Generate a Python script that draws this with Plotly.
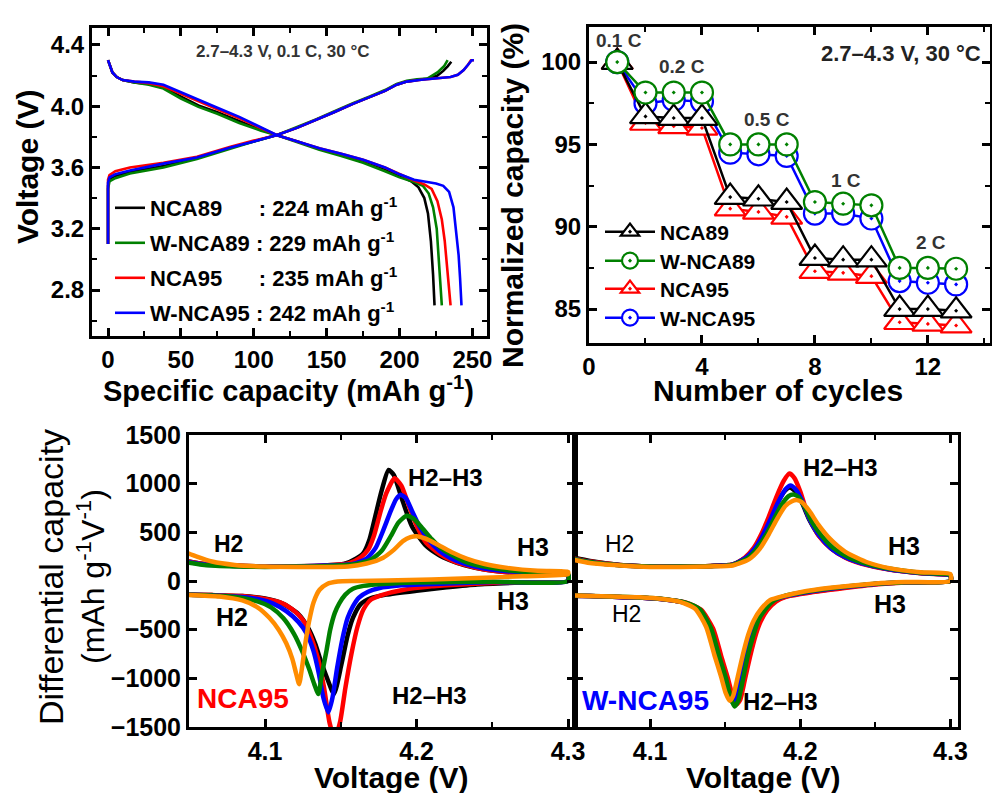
import plotly.graph_objects as go

FONT = "Liberation Sans, Arial, sans-serif"

# ---------------- Panel A: voltage profiles (0.1 C) ----------------
profile_names = ["NCA89      : 224 mAh g<sup>-1</sup>",
                 "W-NCA89 : 229 mAh g<sup>-1</sup>",
                 "NCA95      : 235 mAh g<sup>-1</sup>",
                 "W-NCA95 : 242 mAh g<sup>-1</sup>"]
profile_colors = ["#000000", "#008000", "#ff0000", "#0000ff"]

nca89_chg_q = [0, 0, 1, 5, 15, 38, 61, 84, 100, 116, 130, 143, 155, 168, 180, 190, 198, 205, 213, 220, 226, 230, 233, 235.5]
nca89_chg_v = [3.10, 3.48, 3.525, 3.545, 3.57, 3.61, 3.66, 3.73, 3.77, 3.812, 3.86, 3.91, 3.96, 4.015, 4.06, 4.10, 4.14, 4.16, 4.172, 4.18, 4.20, 4.23, 4.26, 4.29]
nca89_dis_q = [0, 1, 3, 6, 10, 18, 28, 38, 50, 62, 75, 90, 105, 116, 130, 145, 160, 175, 190, 200, 208, 213, 217, 219.5, 221.5, 223, 224]
nca89_dis_v = [4.30, 4.27, 4.22, 4.19, 4.17, 4.155, 4.145, 4.12, 4.06, 4.005, 3.96, 3.90, 3.845, 3.81, 3.77, 3.72, 3.685, 3.645, 3.59, 3.545, 3.51, 3.47, 3.40, 3.30, 3.12, 2.90, 2.70]

wnca89_chg_q = [0, 0, 1, 5, 15, 38, 61, 84, 100, 116, 130, 143, 155, 168, 180, 190, 198, 205, 212, 219, 226, 230.5, 233]
wnca89_chg_v = [3.10, 3.46, 3.51, 3.53, 3.56, 3.60, 3.655, 3.725, 3.77, 3.812, 3.865, 3.915, 3.965, 4.02, 4.065, 4.105, 4.145, 4.165, 4.175, 4.18, 4.22, 4.26, 4.30]
wnca89_dis_q = [0, 1, 3, 6, 10, 18, 28, 38, 50, 62, 75, 90, 105, 116, 130, 145, 160, 175, 190, 200, 210, 216, 220, 223, 225.5, 227, 228, 229]
wnca89_dis_v = [4.30, 4.27, 4.22, 4.19, 4.17, 4.155, 4.14, 4.115, 4.05, 3.995, 3.95, 3.89, 3.84, 3.81, 3.765, 3.715, 3.675, 3.63, 3.575, 3.535, 3.505, 3.48, 3.43, 3.34, 3.20, 3.00, 2.85, 2.70]

nca95_chg_q = [0, 0, 1, 5, 15, 38, 61, 84, 100, 116, 130, 143, 155, 168, 180, 190, 198, 205, 215, 225, 235, 240, 244, 247, 249, 251]
nca95_chg_v = [3.10, 3.52, 3.55, 3.575, 3.60, 3.63, 3.67, 3.735, 3.775, 3.812, 3.86, 3.91, 3.96, 4.015, 4.06, 4.10, 4.14, 4.16, 4.172, 4.18, 4.19, 4.205, 4.235, 4.27, 4.30, 4.30]
nca95_dis_q = [0, 1, 3, 6, 10, 18, 28, 38, 50, 62, 75, 90, 105, 116, 130, 145, 160, 175, 190, 200, 210, 217, 222, 226, 229, 231, 232.5, 234, 235]
nca95_dis_v = [4.30, 4.27, 4.22, 4.19, 4.17, 4.16, 4.15, 4.13, 4.08, 4.03, 3.98, 3.92, 3.855, 3.81, 3.77, 3.725, 3.69, 3.65, 3.60, 3.555, 3.515, 3.49, 3.46, 3.38, 3.26, 3.12, 2.98, 2.82, 2.70]

wnca95_chg_q = [0, 0, 1, 5, 15, 38, 61, 84, 100, 116, 130, 143, 155, 168, 180, 190, 198, 205, 215, 225, 235, 240, 244, 247, 249.5, 251]
wnca95_chg_v = [3.10, 3.50, 3.535, 3.555, 3.58, 3.625, 3.665, 3.73, 3.77, 3.812, 3.86, 3.91, 3.96, 4.015, 4.06, 4.10, 4.14, 4.16, 4.172, 4.18, 4.19, 4.205, 4.235, 4.27, 4.30, 4.30]
wnca95_dis_q = [0, 1, 3, 6, 10, 18, 28, 38, 50, 62, 75, 90, 105, 116, 130, 145, 160, 175, 190, 200, 210, 218, 225, 230, 234, 237, 239, 240.5, 241.5, 242.5]
wnca95_dis_v = [4.30, 4.27, 4.22, 4.19, 4.17, 4.16, 4.155, 4.14, 4.09, 4.04, 3.99, 3.93, 3.86, 3.81, 3.77, 3.725, 3.69, 3.65, 3.60, 3.555, 3.52, 3.505, 3.495, 3.48, 3.44, 3.34, 3.18, 3.03, 2.88, 2.70]

# ---------------- Panel B: rate capability ----------------
cycles = [1, 2, 3, 4, 5, 6, 7, 8, 9, 10, 11, 12, 13]
rate_nca89 = [100, 96.7, 96.6, 96.6, 91.8, 91.7, 91.5, 88.1, 88.0, 88.0, 85.0, 85.0, 84.9]
rate_wnca89 = [100, 98.15, 98.15, 98.15, 95.0, 95.0, 95.0, 91.5, 91.4, 91.3, 87.5, 87.5, 87.45]
rate_nca95 = [100, 96.3, 96.1, 96.0, 91.1, 90.9, 90.6, 87.3, 87.2, 87.0, 84.2, 84.1, 84.0]
rate_wnca95 = [100, 97.5, 97.7, 97.6, 94.5, 94.4, 94.3, 90.8, 90.8, 90.5, 86.7, 86.6, 86.5]
rate_labels = ["0.1 C", "0.2 C", "0.5 C", "1 C", "2 C"]
rate_label_x = [1.05, 3.3, 6.3, 9.1, 12.1]
rate_label_y = [101.3, 99.75, 96.5, 92.8, 89.05]

# ---------------- Panel C: dQ/dV of NCA95 (5 curves) ----------------
dqdv_colors = ["#000000", "#ff0000", "#0000ff", "#008000", "#ff8c00"]

c_black_chg_v = [4.045, 4.06, 4.08, 4.10, 4.12, 4.14, 4.152, 4.160, 4.165, 4.169, 4.173, 4.177, 4.1815, 4.185, 4.19, 4.197, 4.206, 4.215, 4.222, 4.232, 4.244, 4.26, 4.28, 4.30]
c_black_chg_d = [215, 175, 158, 150, 152, 160, 175, 230, 290, 430, 680, 930, 1140, 1090, 860, 560, 365, 265, 215, 160, 120, 90, 70, 60]
c_black_dis_v = [4.30, 4.27, 4.24, 4.22, 4.20, 4.18, 4.17, 4.163, 4.158, 4.1545, 4.1505, 4.1455, 4.141, 4.137, 4.133, 4.128, 4.122, 4.112, 4.10, 4.085, 4.065, 4.045]
c_black_dis_d = [0, -15, -35, -65, -100, -140, -175, -240, -380, -560, -850, -1160, -1000, -830, -640, -470, -340, -235, -180, -155, -145, -140]

c_red_chg_v = [4.045, 4.06, 4.08, 4.10, 4.12, 4.14, 4.155, 4.163, 4.168, 4.172, 4.176, 4.18, 4.1855, 4.19, 4.195, 4.20, 4.206, 4.215, 4.222, 4.232, 4.244, 4.26, 4.28, 4.30]
c_red_chg_d = [215, 175, 158, 150, 152, 160, 180, 240, 320, 470, 700, 900, 1055, 980, 770, 570, 400, 280, 220, 165, 120, 90, 70, 60]
c_red_dis_v = [4.30, 4.26, 4.23, 4.21, 4.19, 4.178, 4.17, 4.165, 4.161, 4.157, 4.153, 4.1495, 4.146, 4.1425, 4.139, 4.135, 4.13, 4.125, 4.118, 4.11, 4.10, 4.085, 4.065, 4.045]
c_red_dis_d = [0, -15, -35, -55, -95, -140, -190, -290, -470, -750, -1100, -1450, -1620, -1450, -1100, -800, -560, -400, -290, -220, -185, -155, -145, -140]

c_blue_chg_v = [4.045, 4.06, 4.08, 4.10, 4.12, 4.14, 4.158, 4.167, 4.173, 4.178, 4.183, 4.1865, 4.1896, 4.193, 4.197, 4.202, 4.208, 4.215, 4.222, 4.232, 4.244, 4.26, 4.28, 4.30]
c_blue_chg_d = [205, 170, 155, 148, 150, 158, 175, 230, 340, 520, 720, 840, 885, 850, 720, 560, 420, 310, 240, 175, 130, 100, 80, 65]
c_blue_dis_v = [4.30, 4.25, 4.22, 4.19, 4.175, 4.168, 4.162, 4.158, 4.1545, 4.151, 4.1475, 4.1445, 4.1418, 4.1385, 4.1355, 4.132, 4.1275, 4.122, 4.114, 4.105, 4.095, 4.08, 4.065, 4.045]
c_blue_dis_d = [0, -10, -25, -45, -75, -110, -170, -260, -380, -600, -900, -1200, -1350, -1200, -950, -720, -540, -420, -310, -230, -185, -160, -148, -140]

c_green_chg_v = [4.045, 4.06, 4.08, 4.10, 4.12, 4.14, 4.16, 4.17, 4.177, 4.183, 4.188, 4.1935, 4.198, 4.204, 4.21, 4.216, 4.222, 4.232, 4.244, 4.26, 4.28, 4.30]
c_green_chg_d = [200, 165, 150, 145, 148, 155, 175, 220, 310, 460, 600, 670, 640, 540, 430, 340, 280, 200, 150, 110, 85, 75]
c_green_dis_v = [4.30, 4.25, 4.20, 4.18, 4.165, 4.158, 4.153, 4.149, 4.146, 4.143, 4.1405, 4.1375, 4.1352, 4.1325, 4.129, 4.1245, 4.119, 4.112, 4.104, 4.095, 4.08, 4.065, 4.045]
c_green_dis_d = [0, -8, -15, -28, -50, -80, -140, -230, -330, -500, -720, -960, -1160, -1060, -900, -720, -540, -380, -270, -210, -165, -150, -140]

c_orange_chg_v = [4.045, 4.055, 4.065, 4.08, 4.10, 4.13, 4.155, 4.167, 4.178, 4.185, 4.191, 4.196, 4.20, 4.206, 4.215, 4.224, 4.233, 4.245, 4.26, 4.28, 4.30]
c_orange_chg_d = [310, 250, 200, 165, 148, 145, 150, 180, 240, 320, 410, 450, 460, 435, 365, 290, 230, 175, 135, 105, 95]
c_orange_dis_v = [4.30, 4.27, 4.24, 4.21, 4.18, 4.16, 4.148, 4.141, 4.136, 4.132, 4.129, 4.1265, 4.1245, 4.1225, 4.1205, 4.118, 4.114, 4.109, 4.103, 4.095, 4.085, 4.07, 4.045]
c_orange_dis_d = [70, 50, 30, 15, 5, 0, -5, -30, -90, -220, -420, -650, -880, -1060, -950, -800, -640, -500, -380, -270, -200, -160, -140]

# ---------------- Panel D: dQ/dV of W-NCA95 (5 curves) ----------------
d_black_chg_v = [4.045, 4.06, 4.08, 4.10, 4.12, 4.14, 4.155, 4.164, 4.17, 4.175, 4.18, 4.185, 4.19, 4.193, 4.197, 4.201, 4.206, 4.213, 4.221, 4.23, 4.245, 4.26, 4.28, 4.30]
d_black_chg_d = [255, 205, 165, 150, 150, 155, 170, 245, 345, 480, 640, 810, 930, 960, 920, 810, 630, 455, 330, 245, 165, 118, 82, 55]
d_black_dis_v = [4.30, 4.27, 4.25, 4.22, 4.20, 4.19, 4.183, 4.177, 4.1725, 4.169, 4.1655, 4.162, 4.159, 4.1565, 4.154, 4.151, 4.1465, 4.141, 4.133, 4.123, 4.11, 4.095, 4.075, 4.06, 4.045]
d_black_dis_d = [0, -14, -32, -85, -130, -160, -205, -295, -415, -565, -770, -1010, -1210, -1260, -1180, -1005, -775, -485, -292, -222, -190, -172, -162, -155, -152]

d_red_chg_v = [4.045, 4.06, 4.08, 4.10, 4.12, 4.14, 4.155, 4.163, 4.169, 4.174, 4.179, 4.184, 4.189, 4.1928, 4.196, 4.20, 4.205, 4.212, 4.22, 4.23, 4.245, 4.26, 4.28, 4.30]
d_red_chg_d = [245, 200, 165, 150, 150, 155, 170, 240, 340, 480, 660, 860, 1030, 1104, 1060, 920, 680, 470, 340, 240, 160, 115, 80, 55]
d_red_dis_v = [4.30, 4.27, 4.25, 4.22, 4.20, 4.19, 4.184, 4.178, 4.1735, 4.17, 4.1665, 4.163, 4.16, 4.1575, 4.155, 4.152, 4.1475, 4.142, 4.134, 4.124, 4.11, 4.095, 4.075, 4.06, 4.045]
d_red_dis_d = [0, -15, -35, -90, -135, -165, -210, -300, -420, -570, -780, -1020, -1220, -1270, -1190, -1010, -780, -490, -295, -222, -190, -172, -162, -155, -150]

d_blue_chg_v = [4.045, 4.06, 4.08, 4.10, 4.12, 4.14, 4.155, 4.164, 4.17, 4.175, 4.18, 4.185, 4.19, 4.1935, 4.197, 4.201, 4.206, 4.213, 4.221, 4.23, 4.245, 4.26, 4.28, 4.30]
d_blue_chg_d = [240, 195, 162, 148, 148, 152, 168, 240, 340, 470, 630, 800, 940, 981, 940, 830, 640, 460, 330, 245, 165, 118, 82, 55]
d_blue_dis_v = [4.30, 4.27, 4.25, 4.22, 4.20, 4.19, 4.182, 4.176, 4.171, 4.1675, 4.164, 4.1605, 4.1575, 4.155, 4.1525, 4.1495, 4.145, 4.1395, 4.132, 4.122, 4.11, 4.095, 4.075, 4.06, 4.045]
d_blue_dis_d = [0, -12, -30, -80, -125, -155, -200, -290, -410, -560, -760, -1000, -1200, -1250, -1170, -1000, -770, -480, -290, -220, -190, -172, -162, -155, -150]

d_green_chg_v = [4.045, 4.06, 4.08, 4.10, 4.12, 4.14, 4.155, 4.165, 4.171, 4.177, 4.182, 4.187, 4.192, 4.1955, 4.199, 4.203, 4.208, 4.215, 4.222, 4.232, 4.245, 4.26, 4.28, 4.30]
d_green_chg_d = [240, 195, 162, 148, 148, 152, 165, 235, 330, 470, 620, 770, 870, 889, 860, 760, 600, 450, 340, 245, 175, 125, 85, 60]
d_green_dis_v = [4.30, 4.27, 4.25, 4.22, 4.20, 4.19, 4.183, 4.177, 4.172, 4.1687, 4.165, 4.1617, 4.1587, 4.1562, 4.1537, 4.1507, 4.146, 4.1405, 4.133, 4.123, 4.11, 4.095, 4.075, 4.06, 4.045]
d_green_dis_d = [0, -12, -28, -75, -120, -150, -195, -285, -405, -560, -770, -1020, -1230, -1290, -1200, -1010, -775, -485, -290, -220, -188, -170, -160, -153, -148]

d_orange_chg_v = [4.045, 4.06, 4.08, 4.10, 4.12, 4.14, 4.155, 4.166, 4.173, 4.179, 4.185, 4.19, 4.1945, 4.1977, 4.201, 4.206, 4.212, 4.22, 4.23, 4.245, 4.26, 4.28, 4.30]
d_orange_chg_d = [230, 185, 160, 145, 145, 150, 160, 225, 330, 480, 650, 770, 820, 831, 810, 720, 580, 430, 300, 190, 130, 90, 70]
d_orange_dis_v = [4.30, 4.27, 4.25, 4.22, 4.20, 4.19, 4.18, 4.174, 4.169, 4.1653, 4.1618, 4.1583, 4.1553, 4.153, 4.1503, 4.1473, 4.1428, 4.1373, 4.13, 4.12, 4.108, 4.093, 4.075, 4.06, 4.045]
d_orange_dis_d = [0, -10, -25, -70, -115, -150, -195, -285, -405, -555, -755, -990, -1180, -1230, -1150, -985, -760, -470, -285, -215, -185, -168, -160, -153, -148]

# ---------------- Figure ----------------
W, H = 992, 793
def px(x):
    return x / W
def py(y):
    return 1 - y / H

fig = go.Figure()

# one legend box per row so that the row spacing matches the original
legA_ids = ["legend", "legend2", "legend3", "legend4"]
legA_rows = [208, 243, 278, 313]
legB_ids = ["legend5", "legend6", "legend7", "legend8"]
legB_rows = [232, 261, 289, 318]

# Panel A traces
prof_q = [(nca89_chg_q, nca89_dis_q), (wnca89_chg_q, wnca89_dis_q), (nca95_chg_q, nca95_dis_q), (wnca95_chg_q, wnca95_dis_q)]
prof_v = [(nca89_chg_v, nca89_dis_v), (wnca89_chg_v, wnca89_dis_v), (nca95_chg_v, nca95_dis_v), (wnca95_chg_v, wnca95_dis_v)]
for i in range(4):
    xq = list(prof_q[i][0]) + [None] + list(prof_q[i][1])
    yv = list(prof_v[i][0]) + [None] + list(prof_v[i][1])
    fig.add_trace(go.Scatter(x=xq, y=yv, mode="lines", name=profile_names[i].replace("      ", "\u00a0" * 6),
                             line=dict(color=profile_colors[i], width=2.6), xaxis="x", yaxis="y",
                             legend=legA_ids[i]))

# Panel B traces (draw order: NCA95, W-NCA95, NCA89, W-NCA89)
rate_series = [("NCA95", rate_nca95, "#ff0000", "triangle-up-dot", 2, 27),
               ("W-NCA95", rate_wnca95, "#0000ff", "circle-dot", 3, 22),
               ("NCA89", rate_nca89, "#000000", "triangle-up-dot", 0, 27),
               ("W-NCA89", rate_wnca89, "#008000", "circle-dot", 1, 22)]
for name, vals, col, sym, row, size in rate_series:
    fig.add_trace(go.Scatter(x=cycles, y=vals, mode="lines+markers", name=name,
                             line=dict(color=col, width=2.5),
                             marker=dict(symbol=sym, size=size, color="white", line=dict(color=col, width=2.2)),
                             xaxis="x2", yaxis="y2", legend=legB_ids[row]))

# Panel C and D traces
panel_c = [(c_black_chg_v, c_black_chg_d, c_black_dis_v, c_black_dis_d),
           (c_red_chg_v, c_red_chg_d, c_red_dis_v, c_red_dis_d),
           (c_blue_chg_v, c_blue_chg_d, c_blue_dis_v, c_blue_dis_d),
           (c_green_chg_v, c_green_chg_d, c_green_dis_v, c_green_dis_d),
           (c_orange_chg_v, c_orange_chg_d, c_orange_dis_v, c_orange_dis_d)]
panel_d = [(d_black_chg_v, d_black_chg_d, d_black_dis_v, d_black_dis_d),
           (d_red_chg_v, d_red_chg_d, d_red_dis_v, d_red_dis_d),
           (d_blue_chg_v, d_blue_chg_d, d_blue_dis_v, d_blue_dis_d),
           (d_green_chg_v, d_green_chg_d, d_green_dis_v, d_green_dis_d),
           (d_orange_chg_v, d_orange_chg_d, d_orange_dis_v, d_orange_dis_d)]
for panel, xa, ya in [(panel_c, "x3", "y3"), (panel_d, "x4", "y4")]:
    for i, (cv, cd, dv, dd) in enumerate(panel):
        xs = list(cv) + list(dv)
        ys = list(cd) + list(dd)
        fig.add_trace(go.Scatter(x=xs, y=ys, mode="lines", line=dict(color=dqdv_colors[i], width=4.5, shape="spline", smoothing=0.6),
                                 xaxis=xa, yaxis=ya, showlegend=False, hoverinfo="skip"))

tickfont = dict(family=FONT, size=24, color="black", weight="bold")
tickfont_b = dict(family=FONT, size=25, color="black", weight="bold")
common = dict(showgrid=False, zeroline=False, showline=True, linecolor="black", linewidth=3,
              mirror="allticks", ticks="inside", ticklen=8, tickwidth=2.5, tickcolor="black",
              automargin=False)
minor_common = dict(ticks="inside", ticklen=5, tickwidth=2, tickcolor="black")

layout_legends = {}
for lid, row in zip(legA_ids, legA_rows):
    layout_legends[lid] = dict(x=px(110), y=py(row), xanchor="left", yanchor="middle", bgcolor="rgba(0,0,0,0)",
                               font=dict(family=FONT, size=22, color="black", weight="bold"), itemwidth=30)
for lid, row in zip(legB_ids, legB_rows):
    layout_legends[lid] = dict(x=px(600), y=py(row), xanchor="left", yanchor="middle", bgcolor="rgba(0,0,0,0)",
                               font=dict(family=FONT, size=21, color="black", weight="bold"), itemwidth=50)

fig.update_layout(
    width=W, height=H, margin=dict(l=0, r=0, t=0, b=0, pad=0, autoexpand=False),
    paper_bgcolor="white", plot_bgcolor="white",
    font=dict(family=FONT, color="black"),
    xaxis=dict(domain=[px(92), px(487)], anchor="y", range=[-11, 260], tickvals=[0, 50, 100, 150, 200, 250],
               minor=dict(dtick=25, tick0=0, **minor_common), tickfont=tickfont, **common),
    yaxis=dict(domain=[py(336), py(28)], anchor="x", range=[2.5, 4.51], tickvals=[2.8, 3.2, 3.6, 4.0, 4.4],
               ticktext=["2.8", "3.2", "3.6", "4.0", "4.4"],
               minor=dict(dtick=0.2, tick0=2.8, **minor_common), tickfont=tickfont, **common),
    xaxis2=dict(domain=[px(589), px(990)], anchor="y2", range=[0, 14.2], tickvals=[0, 4, 8, 12],
                minor=dict(dtick=2, tick0=0, **minor_common), tickfont=tickfont, **common),
    yaxis2=dict(domain=[py(343), py(27)], anchor="x2", range=[82.94, 102.13], tickvals=[85, 90, 95, 100],
                minor=dict(dtick=2.5, tick0=85, **minor_common), tickfont=tickfont, **common),
    xaxis3=dict(domain=[px(189), px(575)], anchor="y3", range=[4.0498, 4.3046], tickvals=[4.1, 4.2, 4.3],
                ticktext=["4.1", "4.2", "4.3"],
                minor=dict(dtick=0.05, tick0=4.1, **minor_common), tickfont=tickfont_b, **common),
    yaxis3=dict(domain=[py(727), py(435)], anchor="x3", range=[-1500, 1500], tickvals=[-1500, -1000, -500, 0, 500, 1000, 1500],
                tickfont=tickfont_b, **common),
    xaxis4=dict(domain=[px(575), px(958)], anchor="y4", range=[4.05, 4.305], tickvals=[4.1, 4.2, 4.3],
                ticktext=["4.1", "4.2", "4.3"],
                minor=dict(dtick=0.05, tick0=4.1, **minor_common), tickfont=tickfont_b, **common),
    yaxis4=dict(domain=[py(727), py(435)], anchor="x4", range=[-1500, 1500], tickvals=[-1500, -1000, -500, 0, 500, 1000, 1500],
                showticklabels=False, **common),
    **layout_legends,
)

ann = []
def add_text(text, x, y, xref, yref, size, color="black", weight="bold", angle=0, xanchor="center", yanchor="middle"):
    ann.append(dict(text=text, x=x, y=y, xref=xref, yref=yref, showarrow=False, textangle=angle,
                    xanchor=xanchor, yanchor=yanchor,
                    font=dict(family=FONT, size=size, color=color, weight=weight)))

# axis titles
add_text("Voltage (V)", px(28), py(167), "paper", "paper", 30, angle=-90)
add_text("Specific capacity (mAh g<sup>-1</sup>)", px(288), py(389), "paper", "paper", 29)
add_text("Normalized capacity (%)", px(513), py(196), "paper", "paper", 30, angle=-90)
add_text("Number of cycles", px(778), py(390), "paper", "paper", 30)
add_text("Differential capacity", px(51), py(577), "paper", "paper", 34, weight="normal", angle=-90)
add_text("(mAh g<sup>-1</sup>V<sup>-1</sup>)", px(91), py(577), "paper", "paper", 32, weight="normal", angle=-90)
add_text("Voltage (V)", px(391), py(777), "paper", "paper", 30)
add_text("Voltage (V)", px(763), py(777), "paper", "paper", 30)

# panel annotations
add_text("2.7–4.3 V, 0.1 C, 30 °C", px(282), py(52), "paper", "paper", 17, color="#333333")
add_text("2.7–4.3 V, 30 °C", px(983), py(53), "paper", "paper", 22, color="#222222", xanchor="right")
for t, xx, yy in zip(rate_labels, rate_label_x, rate_label_y):
    add_text(t, xx, yy, "x2", "y2", 19, color="#333333")

# panel C labels
add_text("H2–H3", 4.2188, 1065, "x3", "y3", 24)
add_text("H2", 4.0758, 380, "x3", "y3", 23)
add_text("H3", 4.2771, 346, "x3", "y3", 25)
add_text("H3", 4.2639, -202, "x3", "y3", 25)
add_text("H2", 4.078, -373, "x3", "y3", 25)
add_text("H2–H3", 4.1825, -1178, "x3", "y3", 24, xanchor="left")
add_text("NCA95", 4.0535, -1212, "x3", "y3", 28, color="#ff0000", xanchor="left")

# panel D labels
add_text("H2–H3", 4.2266, 1162, "x4", "y4", 24)
add_text("H2", 4.0795, 378, "x4", "y4", 23, weight="normal")
add_text("H3", 4.269, 361, "x4", "y4", 25)
add_text("H3", 4.260, -235, "x4", "y4", 25)
add_text("H2", 4.084, -337, "x4", "y4", 23, weight="normal")
add_text("H2–H3", 4.1605, -1240, "x4", "y4", 24, xanchor="left")
add_text("W-NCA95", 4.0535, -1223, "x4", "y4", 28, color="#0000ff", xanchor="left")

fig.update_layout(annotations=ann)
fig.write_html("out.html")
